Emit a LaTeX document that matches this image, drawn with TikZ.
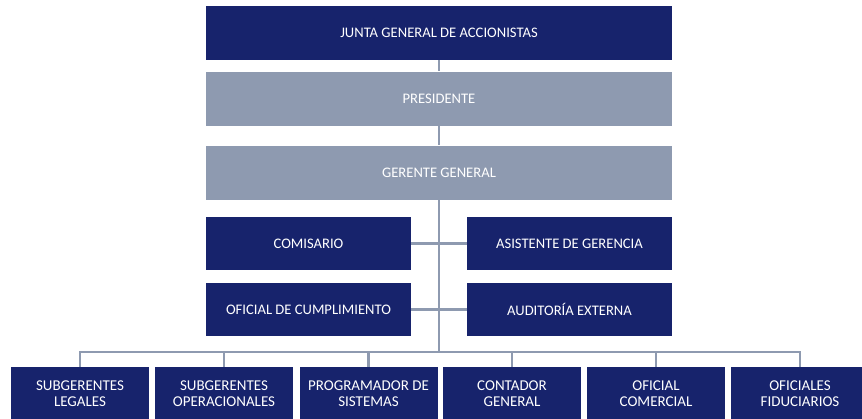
\documentclass[tikz,border=0pt]{standalone}
\usepackage{fontspec}
\setmainfont{Carlito}
\usetikzlibrary{positioning}
\definecolor{navy}{HTML}{17236C}
\definecolor{slate}{HTML}{8E9AB0}

\begin{document}
\begin{tikzpicture}[x=1pt, y=-1pt,
	dark/.style={fill=navy, text=white, inner sep=0pt, align=center, font=\fontsize{14.6}{16}\selectfont},
	light/.style={dark, fill=slate},
	wide/.style={minimum width=466pt, minimum height=54pt},
	half/.style={minimum width=205pt, minimum height=53pt},
	small/.style={minimum width=138pt, minimum height=53pt, font=\fontsize{15}{16}\selectfont},
	link/.style={draw=slate, line width=2.5pt}]
		\useasboundingbox (0,0) rectangle (862,418);
		
		% top of the chart
		\node[dark, wide](JGA) at (439,33){JUNTA GENERAL DE ACCIONISTAS};
		\node[light, wide](PRES) at (439,98.5){PRESIDENTE};
		\node[light, wide](GG) at (439,172.5){GERENTE GENERAL};
		
		\draw[link] (JGA) -- (PRES);
		\draw[link] (PRES) -- (GG);
		
		% staff units
		\node[dark, half](COM) at (308.5,243.5){COMISARIO};
		\node[dark, half](ASI) at (569.5,243.5){ASISTENTE DE GERENCIA};
		\node[dark, half](OFC) at (308.5,309.5){OFICIAL DE CUMPLIMIENTO};
		\node[dark, half](AUD) at (569.5,309.5){AUDITORÍA EXTERNA};
		
		\coordinate (BUS) at (439,352);
		\draw[link] (GG) -- (BUS);
		\draw[link] (COM) -- (ASI);
		\draw[link] (OFC) -- (AUD);
		
		% bottom row
		\node[dark, small](B1) at (80,393.5){SUBGERENTES\\LEGALES};
		\node[dark, small](B2) at (224,393.5){SUBGERENTES\\OPERACIONALES};
		\node[dark, small](B3) at (368.5,393.5){PROGRAMADOR DE\\SISTEMAS};
		\node[dark, small](B4) at (512,393.5){CONTADOR\\GENERAL};
		\node[dark, small](B5) at (656,393.5){OFICIAL\\COMERCIAL};
		\node[dark, small](B6) at (800,393.5){OFICIALES\\FIDUCIARIOS};
		
		\draw[link] (B1.north) |- (BUS) -| (B6.north);
		\foreach \b in {B2,B3,B4,B5}
			\draw[link] (\b.north) -- (\b.north |- BUS);
\end{tikzpicture}
\end{document}
